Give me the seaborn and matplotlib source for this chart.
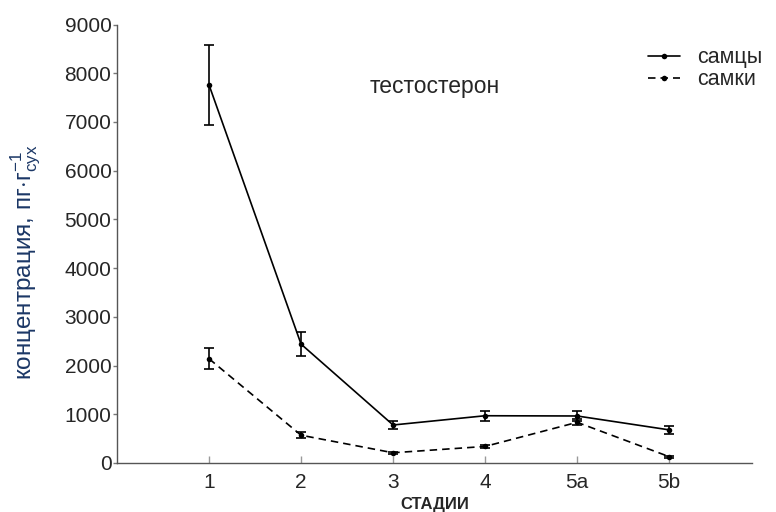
import matplotlib
matplotlib.use("Agg")
import matplotlib.pyplot as plt
import seaborn as sns
import pandas as pd
import numpy as np

stages = ["1", "2", "3", "4", "5a", "5b"]
males = [7760, 2440, 780, 970, 965, 680]
males_err = [820, 250, 75, 100, 95, 80]
females = [2140, 570, 210, 340, 835, 130]
females_err = [220, 60, 25, 30, 60, 20]
series_names = ["самцы", "самки"]

sns.set_theme(style="white")
plt.rcParams["font.family"] = ["Liberation Sans", "DejaVu Sans"]
plt.rcParams["mathtext.fontset"] = "custom"
plt.rcParams["mathtext.rm"] = "Liberation Sans"
plt.rcParams["mathtext.it"] = "Liberation Sans"

df = pd.DataFrame({
    "stage": stages * 2,
    "value": males + females,
    "err": males_err + females_err,
    "sex": [series_names[0]] * len(stages) + [series_names[1]] * len(stages),
})

fig = plt.figure(figsize=(7.76, 5.12), dpi=100)
ax = fig.add_axes([117 / 776, 1 - 463 / 512, (752 - 117) / 776, (463 - 24.5) / 512])

sns.lineplot(
    data=df, x="stage", y="value", style="sex",
    dashes={series_names[0]: "", series_names[1]: (4.5, 3)},
    markers={series_names[0]: "o", series_names[1]: "o"},
    color="black", linewidth=1.2, markersize=4, markeredgewidth=0,
    ax=ax, legend=True, sort=False,
)

xpos = np.arange(len(stages))
ax.errorbar(xpos, males, yerr=males_err, fmt="none", ecolor="black",
            elinewidth=1.2, capsize=3.5, capthick=1.2)
ax.errorbar(xpos, females, yerr=females_err, fmt="none", ecolor="black",
            elinewidth=1.2, capsize=3.5, capthick=1.2)

ax.set_xlim(-1, 5.9)
ax.set_ylim(0, 9000)
ax.set_yticks(range(0, 9001, 1000))
ax.set_xticks(xpos)
ax.set_xticklabels(stages)

for side in ["top", "right"]:
    ax.spines[side].set_visible(False)
for side in ["left", "bottom"]:
    ax.spines[side].set_color("#555555")
    ax.spines[side].set_linewidth(1.0)

ax.tick_params(axis="y", direction="out", length=3, width=1, color="#777777",
               labelsize=15, pad=1, left=True)
ax.tick_params(axis="x", direction="in", length=5, width=1, color="#999999",
               labelsize=15, pad=7, bottom=True)

ax.set_xlabel("СТАДИИ", fontsize=12, fontweight="bold", labelpad=4)
ax.set_ylabel(r"концентрация, пг$\cdot$г$^{-1}_{сух}$", fontsize=17.5,
              color="#1b3766")
ax.yaxis.set_label_coords((43 - 117) / 635, (463 - 262) / 438.5)

ax.text(435 / 776, 1 - 86 / 512, "тестостерон", transform=fig.transFigure,
        ha="center", va="center", fontsize=16.5)

leg = ax.legend(loc="upper right", bbox_to_anchor=(782 / 776, 1 - 28 / 512),
                bbox_transform=fig.transFigure, frameon=False, fontsize=15.5,
                handlelength=1.5, handletextpad=0.8, labelspacing=0.05,
                title=None)

fig.savefig("out.png", dpi=100)
